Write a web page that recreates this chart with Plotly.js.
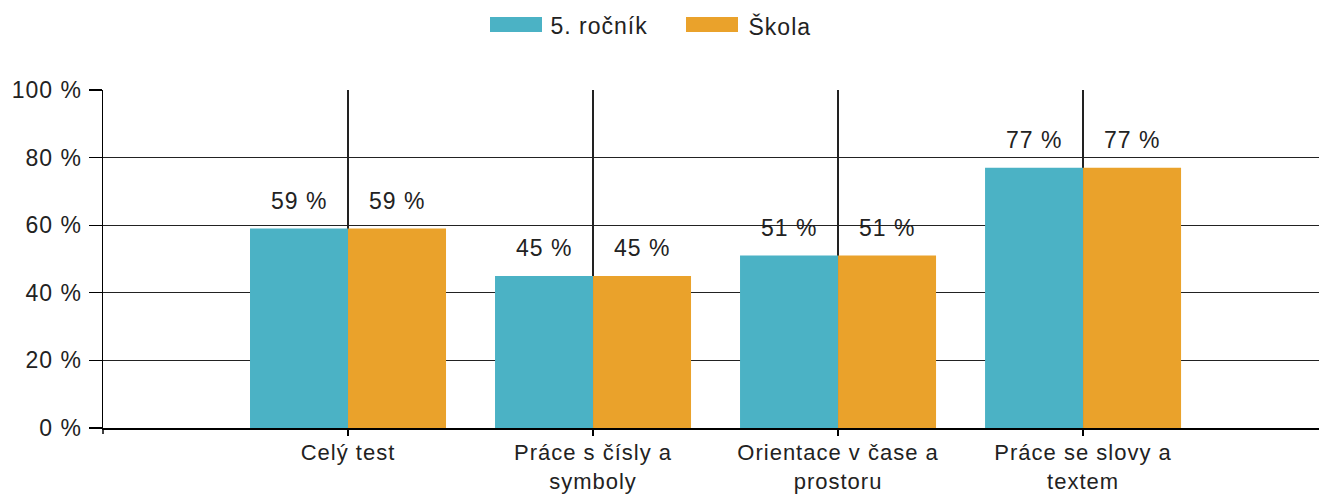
<!DOCTYPE html>
<html>
<head>
<meta charset="utf-8">
<script src="https://cdn.plot.ly/plotly-3.0.1.min.js"></script>
<style>
html,body{margin:0;padding:0;background:#fff;}
#chart text{letter-spacing:1px;}
</style>
</head>
<body>
<div id="chart" style="width:1319px;height:495px;"></div>
<script>
const categories = ["Celý test", "Práce s čísly a<br>symboly", "Orientace v čase a<br>prostoru", "Práce se slovy a<br>textem"];
const seriesNames = ["5. ročník", "Škola"];
const rocnikValues = [59, 45, 51, 77];
const skolaValues = [59, 45, 51, 77];
const yTickValues = [0, 20, 40, 60, 80, 100];
const yTickLabels = yTickValues.map(v => v + " %");
const colors = ["#4BB2C5", "#EAA22B"];

const FONT = "Liberation Sans, Arial, sans-serif";
const FS = 23;
const TXT = "#222222";

const traces = [
  {type: "bar", name: seriesNames[0], x: categories, y: rocnikValues, marker: {color: colors[0]}, hoverinfo: "none"},
  {type: "bar", name: seriesNames[1], x: categories, y: skolaValues, marker: {color: colors[1]}, hoverinfo: "none"}
];

const annotations = [];
[rocnikValues, skolaValues].forEach((vals, s) => {
  vals.forEach((v, i) => {
    annotations.push({
      x: categories[i], y: v, xref: "x", yref: "y",
      text: v + " %", showarrow: false,
      xshift: s === 0 ? -49 : 49, yshift: 28, yanchor: "middle",
      font: {family: FONT, size: FS, color: TXT}
    });
  });
});
// custom legend (wide swatches)
const legendX = [490, 686];
const shapes = [];
seriesNames.forEach((n, s) => {
  shapes.push({type: "rect", xref: "paper", yref: "paper", xsizemode: "pixel", ysizemode: "pixel",
    xanchor: 0, yanchor: 1, x0: legendX[s] - 103, x1: legendX[s] - 103 + 52, y0: 90 - 17, y1: 90 - 32,
    fillcolor: colors[s], line: {width: 0}});
  annotations.push({xref: "paper", yref: "paper", x: 0, y: 1, xshift: legendX[s] - 103 + 52 + 11, yshift: 90 - 26,
    xanchor: "left", yanchor: "middle", showarrow: false, text: n,
    font: {family: FONT, size: FS, color: TXT}});
});
// y-axis line extension below zero
shapes.push({type: "line", xref: "paper", yref: "paper", ysizemode: "pixel", yanchor: 0, x0: 0, x1: 0, y0: 0, y1: -6,
  line: {color: "#000", width: 1.5}});

const layout = {
  width: 1319, height: 495,
  margin: {l: 103, r: 0, t: 90, b: 67, pad: 0},
  paper_bgcolor: "#fff", plot_bgcolor: "#fff",
  barmode: "group", bargap: 0.2, bargroupgap: 0,
  showlegend: false,
  font: {family: FONT, size: FS, color: TXT},
  xaxis: {
    type: "category", range: [-1, 3.963], fixedrange: true,
    showgrid: true, gridcolor: "#222", gridwidth: 1.3,
    showline: true, linecolor: "#000", linewidth: 1.5,
    ticks: "outside", ticklen: 6, tickcolor: "#000", tickwidth: 1.2,
    ticklabelstandoff: -2,
    tickfont: {family: FONT, size: 22, color: TXT}
  },
  yaxis: {
    range: [0, 100], tickvals: yTickValues, ticktext: yTickLabels, fixedrange: true,
    showgrid: true, gridcolor: "#222", gridwidth: 1.3,
    showline: true, linecolor: "#000", linewidth: 1.5, zeroline: false,
    ticks: "outside", ticklen: 13, tickcolor: "#000", tickwidth: 1.3,
    ticklabelstandoff: 2,
    tickfont: {family: FONT, size: FS, color: TXT}
  },
  annotations: annotations,
  shapes: shapes
};
Plotly.newPlot("chart", traces, layout, {displayModeBar: false, staticPlot: true});
</script>
</body>
</html>
